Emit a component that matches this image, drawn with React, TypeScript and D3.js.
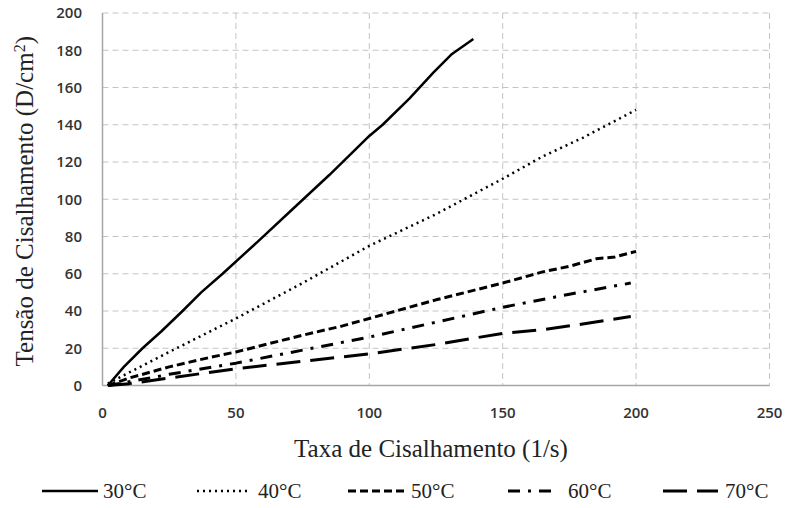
import React from 'react';
import * as d3 from 'd3';

// shear rate (1/s) and shear stress (D/cm2) per temperature
const rate30 = [2, 8, 15, 22, 30, 37, 45, 58, 70, 85, 100, 105, 115, 124, 131, 139];
const stress30 = [0, 10, 20, 29, 40, 50, 60, 77, 93, 113, 134, 140, 154, 168, 178, 186];

const rate40 = [2, 10, 25, 50, 75, 100, 125, 150, 165, 180, 200];
const stress40 = [1, 7, 18, 36, 55, 75, 92, 111, 123, 133, 148];

const rate50 = [2, 10, 25, 40, 50, 75, 90, 100, 125, 150, 165, 175, 185, 192, 200];
const stress50 = [0, 4, 10, 15, 18, 27, 32, 36, 46, 55, 61, 64, 68, 69, 72];

const rate60 = [2, 10, 25, 50, 75, 100, 125, 150, 175, 198];
const stress60 = [0, 2, 6, 12, 19, 26, 34, 42, 49, 55];

const rate70 = [2, 10, 25, 50, 75, 100, 125, 150, 165, 180, 198];
const stress70 = [0, 1, 4, 9, 13, 17, 22, 28, 30, 33, 37];

const seriesNames = ['30°C', '40°C', '50°C', '60°C', '70°C'];
const xTicks = [0, 50, 100, 150, 200, 250];
const yTicks = [0, 20, 40, 60, 80, 100, 120, 140, 160, 180, 200];

const series = [
  { name: seriesNames[0], x: rate30, y: stress30, dash: 'none', width: 2.5 },
  { name: seriesNames[1], x: rate40, y: stress40, dash: '2 4', width: 2.5 },
  { name: seriesNames[2], x: rate50, y: stress50, dash: '8 4', width: 3 },
  { name: seriesNames[3], x: rate60, y: stress60, dash: '12 8 3 8', width: 3 },
  { name: seriesNames[4], x: rate70, y: stress70, dash: '24 10', width: 3 },
];

// legend placement: line start, line end, text start
const legendPos = [
  [42, 98, 103],
  [197, 250, 258],
  [348, 408, 411],
  [508, 553, 568],
  [663, 718, 725],
];

const W = 790;
const H = 508;
const left = 102.5;
const right = 769.5;
const top = 13;
const bottom = 385.5;

export default function App() {
  const x = d3.scaleLinear().domain([0, 250]).range([left, right]);
  const y = d3.scaleLinear().domain([0, 200]).range([bottom, top]);

  const line = d3.line<[number, number]>()
    .x(d => x(d[0]))
    .y(d => y(d[1]));

  const serif = '"Liberation Serif", "Times New Roman", serif';
  const sans = '"Open Sans", "Liberation Sans", sans-serif';

  return (
    <svg width={W} height={H} style={{ position: 'absolute', left: 0, top: 0, background: '#fff' }}>
      {/* grid */}
      <g stroke="#c4c4c4" strokeWidth={1} strokeDasharray="6 4">
        {yTicks.filter(t => t > 0).map(t => (
          <line key={'gy' + t} x1={left} x2={right} y1={y(t)} y2={y(t)} />
        ))}
        {xTicks.filter(t => t > 0).map(t => (
          <line key={'gx' + t} x1={x(t)} x2={x(t)} y1={top} y2={bottom} />
        ))}
      </g>
      {/* axes */}
      <g stroke="#a6a6a6" strokeWidth={1.5}>
        <line x1={left} x2={left} y1={top} y2={bottom} />
        <line x1={left} x2={right} y1={bottom} y2={bottom} />
      </g>
      {/* tick labels */}
      <g fontFamily={sans} fontSize={15} fontWeight={600} fill="#333">
        {yTicks.map(t => (
          <text key={'ty' + t} x={82} y={y(t)} dy="0.35em" textAnchor="end">{t}</text>
        ))}
        {xTicks.map(t => (
          <text key={'tx' + t} x={x(t)} y={413} dy="0.35em" textAnchor="middle">{t}</text>
        ))}
      </g>
      {/* series */}
      <g fill="none" stroke="#000" strokeLinejoin="round">
        {series.map(s => (
          <path
            key={s.name}
            d={line(s.x.map((v, i) => [v, s.y[i]] as [number, number])) || ''}
            strokeWidth={s.width}
            strokeDasharray={s.dash}
          />
        ))}
      </g>
      {/* axis titles */}
      <text x={431} y={457} textAnchor="middle" fontFamily={serif} fontSize={25} fill="#222">
        Taxa de Cisalhamento (1/s)
      </text>
      <text
        transform={`translate(33, ${(top + bottom) / 2 + 2}) rotate(-90)`}
        textAnchor="middle"
        fontFamily={serif}
        fontSize={25}
        fill="#222"
      >
        Tensão de Cisalhamento (D/cm<tspan fontSize={16} baselineShift="super">2</tspan>)
      </text>
      {/* legend */}
      <g>
        {series.map((s, i) => (
          <g key={'lg' + s.name}>
            <line
              x1={legendPos[i][0]} x2={legendPos[i][1]} y1={491} y2={491}
              stroke="#000" strokeWidth={s.width} strokeDasharray={s.dash}
            />
            <text x={legendPos[i][2]} y={498} fontFamily={serif} fontSize={21} fill="#222">
              {s.name}
            </text>
          </g>
        ))}
      </g>
    </svg>
  );
}
